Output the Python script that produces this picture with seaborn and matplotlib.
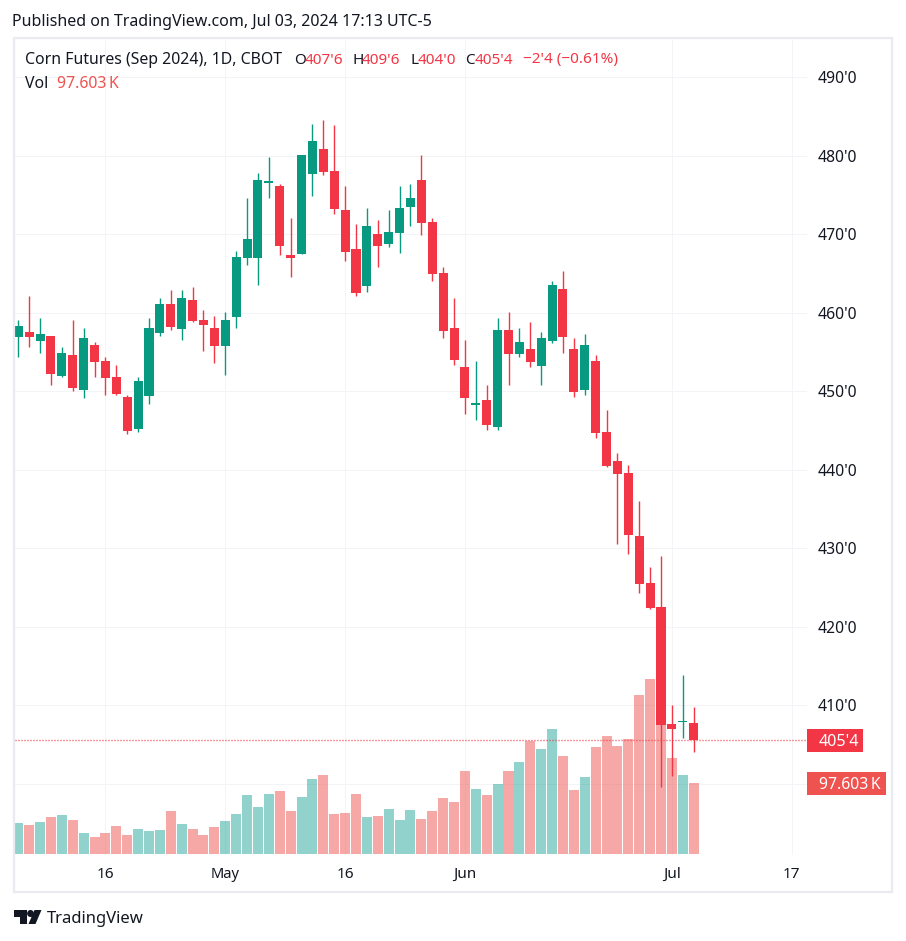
# -*- coding: utf-8 -*-
"""Corn futures daily candles with volume, TradingView look"""
import numpy as np
import pandas as pd
import matplotlib.pyplot as plt
from matplotlib.patches import Circle, Polygon, Rectangle
import seaborn as sns

# daily prices
highs = [459.0, 462.1, 459.3, 457.0, 455.6, 459.0, 458.0, 456.2, 454.3, 453.3,
         449.5, 451.8, 459.3, 461.85, 462.9, 462.9, 463.25, 460.3, 459.55, 460.1,
         467.85, 474.6, 477.8, 479.8, 476.4, 472.0, 480.05, 484.0, 484.5, 483.9,
         476.1, 471.3, 473.3, 471.8, 473.05, 476.1, 476.4, 480.05, 472.0, 465.8,
         461.85, 456.5, 453.8, 450.75, 459.3, 460.05, 458.05, 458.8, 457.5, 464.0,
         465.3, 456.75, 457.25, 454.6, 447.6, 442.1, 440.6, 436.0, 427.6, 429.0,
         410.0, 413.8, 409.75]
opens = [456.9, 457.5, 456.4, 457.0, 451.9, 454.6, 450.1, 455.9, 453.8, 451.8,
         449.2, 445.2, 449.4, 457.4, 461.1, 457.9, 461.6, 459.0, 458.0, 455.7,
         459.4, 466.95, 466.95, 476.5, 476.1, 467.3, 467.5, 477.65, 480.8, 478.05,
         473.05, 468.1, 463.4, 470.0, 468.75, 470.15, 473.45, 476.9, 471.55, 465.05,
         458.05, 453.05, 448.25, 448.85, 445.4, 457.75, 454.7, 455.35, 453.2, 456.35,
         463.0, 455.35, 450.15, 453.8, 444.8, 441.1, 439.55, 431.55, 425.55, 422.5,
         407.6, 407.8, 407.75]
closes = [458.3, 456.9, 457.3, 452.2, 454.8, 450.4, 456.75, 453.7, 451.7, 449.6,
          444.9, 451.3, 458.0, 461.1, 458.15, 461.85, 458.9, 458.4, 455.7, 459.0,
          467.05, 469.4, 476.9, 476.7, 468.5, 466.95, 480.05, 481.85, 477.9, 473.2,
          467.7, 462.5, 471.0, 468.5, 470.25, 473.3, 474.6, 471.4, 464.9, 457.65,
          453.95, 449.1, 448.35, 445.65, 457.75, 454.7, 456.25, 453.7, 456.75, 463.5,
          456.9, 449.85, 455.85, 444.65, 440.45, 439.45, 431.65, 425.4, 422.35, 407.45,
          406.95, 408.0, 405.5]
lows = [454.3, 455.6, 454.8, 450.8, 451.8, 450.0, 449.1, 451.8, 449.5, 449.5,
        444.5, 444.8, 448.4, 457.0, 457.8, 456.5, 458.8, 455.1, 453.6, 452.0,
        458.0, 466.05, 463.5, 474.6, 467.3, 464.5, 467.5, 474.85, 477.5, 472.55,
        466.55, 462.1, 462.6, 465.8, 468.35, 467.6, 471.0, 469.9, 464.0, 456.75,
        453.3, 447.05, 446.3, 445.05, 445.05, 450.75, 454.35, 453.05, 450.75, 456.1,
        454.85, 449.25, 449.5, 444.0, 440.3, 430.5, 429.25, 424.25, 422.25, 399.55,
        400.95, 405.8, 404.0]
# volume in thousands
volumes = [42.6, 39.9, 44.0, 50.9, 53.6, 46.7, 28.9, 23.4, 28.9, 38.5,
           26.1, 34.4, 31.6, 33.0, 59.1, 41.2, 34.4, 26.1, 37.1, 45.4,
           55.0, 81.1, 64.6, 82.5, 86.6, 59.1, 78.4, 103.1, 108.6, 55.0,
           56.4, 82.5, 50.9, 52.2, 61.9, 46.7, 60.5, 48.1, 59.1, 77.0,
           71.5, 114.1, 89.3, 81.1, 96.2, 114.1, 126.5, 155.3, 144.3, 171.8,
           134.7, 88.0, 105.8, 147.1, 162.2, 148.5, 158.1, 218.6, 240.6, 280.4,
           132.0, 108.6, 97.6]

date_ticks = [8, 19, 30, 41, 60, 71]
date_labels = ["16", "May", "16", "Jun", "Jul", "17"]
price_ticks = [400, 410, 420, 430, 440, 450, 460, 470, 480, 490]
price_labels = ["", "410'0", "420'0", "430'0", "440'0", "450'0", "460'0",
                "470'0", "480'0", "490'0"]
last_price = 405.5

UP = "#089981"
DOWN = "#F23645"
VOL_UP = "#26A69A"
VOL_DOWN = "#EF5350"
GRID = "#F3F4F8"
FRAME = "#E9EAF2"
TEXT = "#131722"
FONT = "Noto Sans"
W, H = 906, 941
PX = 0.72  # one pixel in points at dpi 100


def fx(x):
    return x / W


def fy(y):
    return 1 - y / H


def put_text(x, y, s, color=TEXT, size=11.5, **kw):
    """text placed by pixel position in the figure"""
    fig.text(fx(x), fy(y), s, color=color, fontsize=size, va="center", **kw)


sns.set_theme(style="white")
plt.rcParams["font.family"] = [FONT, "DejaVu Sans"]

fig = plt.figure(figsize=(W / 100, H / 100), dpi=100, facecolor="white")
rect = [fx(15), fy(855), fx(807 - 15), fy(39) - fy(855)]
ax_vol = fig.add_axes(rect)
ax = fig.add_axes(rect, sharex=ax_vol)
ax.patch.set_visible(False)
ax_vol.set_zorder(1)
ax.set_zorder(2)

days = np.arange(len(closes))
o = np.array(opens)
c = np.array(closes)
rising = c >= o

# grid first so it sits under the volume bars
ax_vol.set_yticks([])
ax_vol.set_xticks(date_ticks)
ax_vol.grid(False)
for d in date_ticks:
    ax_vol.axvline(d, color=GRID, lw=PX, zorder=0)
ax_vol.hlines(price_ticks, -1, 80, color=GRID, lw=PX, zorder=0,
              transform=ax.transData, snap=True)

# volume
vol_df = pd.DataFrame({"day": days, "vol": volumes,
                       "side": np.where(rising, "up", "down")})
sns.barplot(data=vol_df, x="day", y="vol", hue="side", native_scale=True,
            dodge=False, palette={"up": VOL_UP, "down": VOL_DOWN}, alpha=0.5,
            width=0.92, saturation=1, linewidth=0, legend=False, ax=ax_vol,
            zorder=2)
ax_vol.set_ylim(-1.4, 1120)

# candles
colors = np.where(rising, UP, DOWN)
ax.vlines(days, lows, highs, color=colors, lw=1.0, zorder=3, snap=True)
body_low = np.minimum(o, c)
body_h = np.maximum(np.abs(c - o), 0.2)
ax.bar(days, body_h, bottom=body_low, width=0.83, color=colors, linewidth=0,
       zorder=4)
ax.axhline(last_price, color=DOWN, lw=1.0, ls=(0, (0.72, 1.44)), zorder=5)

ax.set_xlim(-0.3, 72.4)
ax.set_ylim(390.9, 494.85)
ax.yaxis.tick_right()
ax.set_yticks(price_ticks)
ax.set_yticklabels(price_labels, color=TEXT, fontsize=11.3)
ax.set_xticks(date_ticks)
ax.set_xticklabels(date_labels, color=TEXT, fontsize=11)
for lab in ax.get_xticklabels():
    if lab.get_text() == "May":
        lab.set_fontweight("bold")
        lab.set_fontsize(10.6)
ax.tick_params(axis="y", length=0, pad=7.8)
ax.tick_params(axis="x", length=0, pad=8.5)
ax.set_xlabel("")
ax.set_ylabel("")
ax_vol.set_xlabel("")
ax_vol.set_ylabel("")
ax_vol.tick_params(labelbottom=False, length=0)
for a in (ax, ax_vol):
    sns.despine(ax=a, left=True, bottom=True, right=True, top=True)

# frame around the whole chart
fig.add_artist(Rectangle((fx(14), fy(892)), fx(892 - 14), fy(38) - fy(892),
                         transform=fig.transFigure, fill=False,
                         edgecolor=FRAME, lw=1.6, zorder=6))

# header and legend text
put_text(12, 22, "Published on TradingView.com, Jul 03, 2024 17:13 UTC-5")
put_text(25, 60, "Corn Futures (Sep 2024), 1D, CBOT", size=11.4)
for x_letter, letter, x_val, val in [(294, "O", 305, "407'6"), (352, "H", 362, "409'6"),
                                     (410, "L", 418, "404'0"), (465, "C", 475, "405'4")]:
    put_text(x_letter, 60, letter, size=11)
    put_text(x_val, 60, val, color=DOWN, size=11)
put_text(523, 60, "\u22122'4 (\u22120.61%)", color=DOWN, size=11)
put_text(25, 84, "Vol", size=11.4)
put_text(57, 84, "97.603\u2009K", color=VOL_DOWN, size=11.4)

# last value tags on the price scale
fig.add_artist(Rectangle((fx(807), fy(752)), fx(56), fy(729) - fy(752),
                         transform=fig.transFigure, color=DOWN, lw=0, zorder=7))
put_text(819, 742, "405'4", color="white", weight="bold", zorder=8)
fig.add_artist(Rectangle((fx(807), fy(795)), fx(79), fy(772) - fy(795),
                         transform=fig.transFigure, color=VOL_DOWN, lw=0, zorder=7))
put_text(819, 785, "97.603\u2009K", color="white", weight="bold", size=11.3, zorder=8)

# TradingView logo
logo_t = [(14, 910), (27, 910), (27, 924), (20, 924), (20, 917), (14, 917)]
logo_s = [(41.5, 910), (34.5, 910), (28.5, 924), (35.5, 924)]
for pts in (logo_t, logo_s):
    fig.add_artist(Polygon([(fx(x), fy(y)) for x, y in pts], closed=True,
                           transform=fig.transFigure, color=TEXT, lw=0))
fig.add_artist(Circle((fx(30.5), fy(913.5)), 3.4 / W, transform=fig.transFigure,
                      color=TEXT, lw=0))
put_text(47, 919, "TradingView", size=12)

fig.savefig("out.png", dpi=100)
